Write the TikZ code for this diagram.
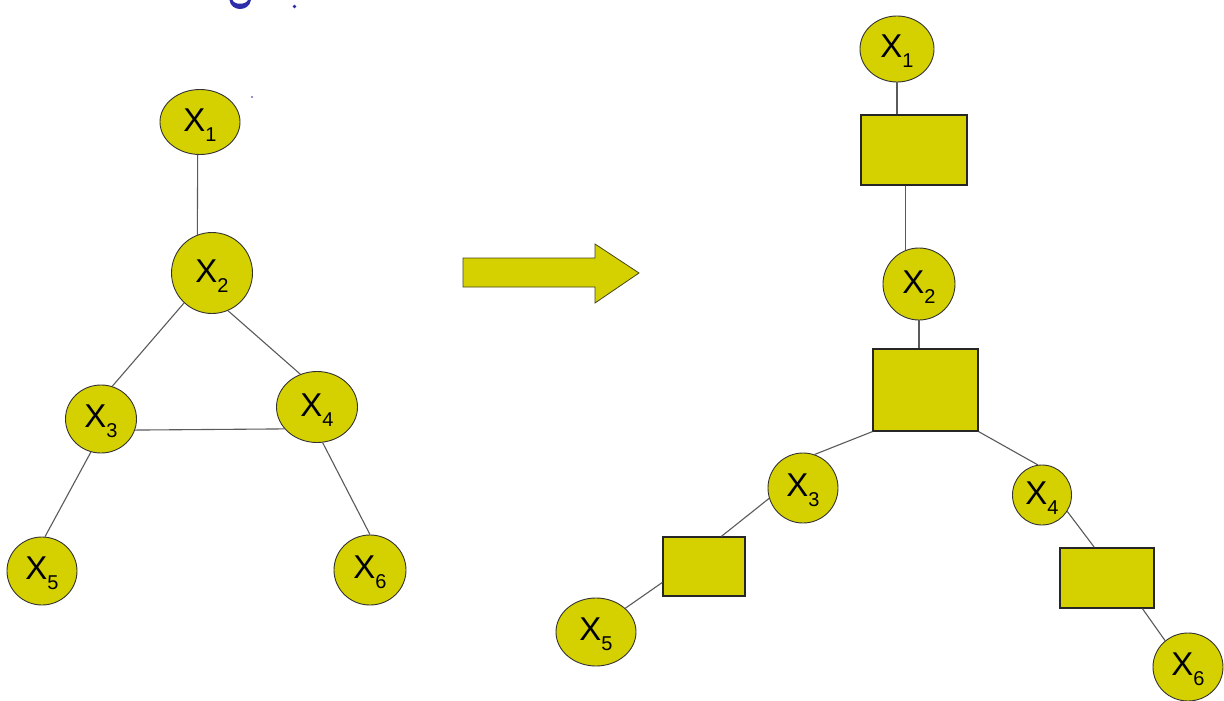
\documentclass[tikz,border=0pt]{standalone}
\usepackage{fontspec}
\setmainfont{Liberation Sans}
\usetikzlibrary{shapes.geometric}
\definecolor{nodefill}{RGB}{213,209,0}
\definecolor{edgegray}{RGB}{90,90,90}
\definecolor{titleblue}{RGB}{45,45,170}
\definecolor{arrowline}{RGB}{70,70,20}

% variable label: X with a lowered index (the strut sets the text a little low)
\newcommand{\xlab}[1]{\rule{0pt}{28pt}{\fontsize{33}{33}\selectfont X}\raisebox{-10pt}{\fontsize{20}{20}\selectfont #1}}

\begin{document}
\begin{tikzpicture}[x=1pt,y=-1pt,
  var/.style={ellipse,draw=black!80,line width=0.9pt,fill=nodefill,inner sep=0pt},
  factor/.style={rectangle,draw=black!85,line width=1.2pt,fill=nodefill,inner sep=0pt},
  link/.style={draw=edgegray,line width=1.1pt}]

\fill[white] (0,0) rectangle (1224,701);
\useasboundingbox (0,0) rectangle (1224,701);

% remnants of the heading at the top edge
\fill[titleblue] (229.5,0) .. controls (231,12) and (249,12) .. (251,0)
  -- (248,0) .. controls (246,5) and (234,5) .. (232.5,0) -- cycle;
\fill[titleblue] (294.5,6.5) circle (1.8pt);
\fill[titleblue!70] (252,97) circle (1.2pt);

% ---------- undirected graph ----------
\node[var,minimum width=80pt,minimum height=65pt] (L1) at (200,122) {\xlab{1}};
\node[var,minimum width=81pt,minimum height=81pt] (L2) at (212,273) {\xlab{2}};
\node[var,minimum width=71pt,minimum height=68pt] (L3) at (101,419) {\xlab{3}};
\node[var,minimum width=81pt,minimum height=71pt] (L4) at (317,407) {\xlab{4}};
\node[var,minimum width=70pt,minimum height=68pt] (L5) at (42,571) {\xlab{5}};
\node[var,minimum width=72pt,minimum height=70pt] (L6) at (370,570) {\xlab{6}};

\draw[link] (L1.266) -- (L2.111);
\draw[link] (L2.227) -- (L3.71);
\draw[link] (L2.293) -- (L4.117);
\draw[link] (L3.-18) -- (L4.214);
\draw[link] (L3.253) -- (L5.85);
\draw[link] (L4.279) -- (L6.90);

% ---------- block arrow ----------
\filldraw[fill=nodefill,draw=arrowline,line width=0.8pt]
  (463,258) -- (595,258) -- (595,244) -- (639,273) -- (595,303) -- (595,287) -- (463,287) -- cycle;

% ---------- factor graph ----------
\node[var,minimum width=74pt,minimum height=66pt] (F1) at (897,49) {\xlab{1}};
\node[factor,minimum width=106pt,minimum height=70pt] (R1) at (914,150) {};
\node[var,minimum width=72pt,minimum height=72pt] (F2) at (919,284) {\xlab{2}};
\node[factor,minimum width=105pt,minimum height=82pt] (R2) at (925.5,390) {};
\node[var,minimum width=70pt,minimum height=70pt] (F3) at (803,488) {\xlab{3}};
\node[var,minimum width=59pt,minimum height=60pt] (F4) at (1042,495) {\xlab{4}};
\node[factor,minimum width=82pt,minimum height=59pt] (R3) at (704,566.5) {};
\node[factor,minimum width=94pt,minimum height=60pt] (R4) at (1107,578) {};
\node[var,minimum width=80pt,minimum height=68pt] (F5) at (596,632) {\xlab{5}};
\node[var,minimum width=70pt,minimum height=68pt] (F6) at (1188,667) {\xlab{6}};

\draw[link] (F1.south) -- (F1.south |- R1.north);
\draw[link] (F2.111) -- (F2.111 |- R1.south);
\draw[link] (F2.south) -- (F2.south |- R2.north);
\draw[link] (R2.south west) -- (F3.71);
\draw[link] (R2.south east) -- (F4.98);
\draw[link] (F3.197) -- ([xshift=59pt]R3.north west);
\draw[link] ([yshift=-46pt]R3.north west) -- (F5.39);
\draw[link] (F4.-33) -- ([xshift=35pt]R4.north west);
\draw[link] ([xshift=83pt]R4.south west) -- (F6.131);

\end{tikzpicture}
\end{document}
